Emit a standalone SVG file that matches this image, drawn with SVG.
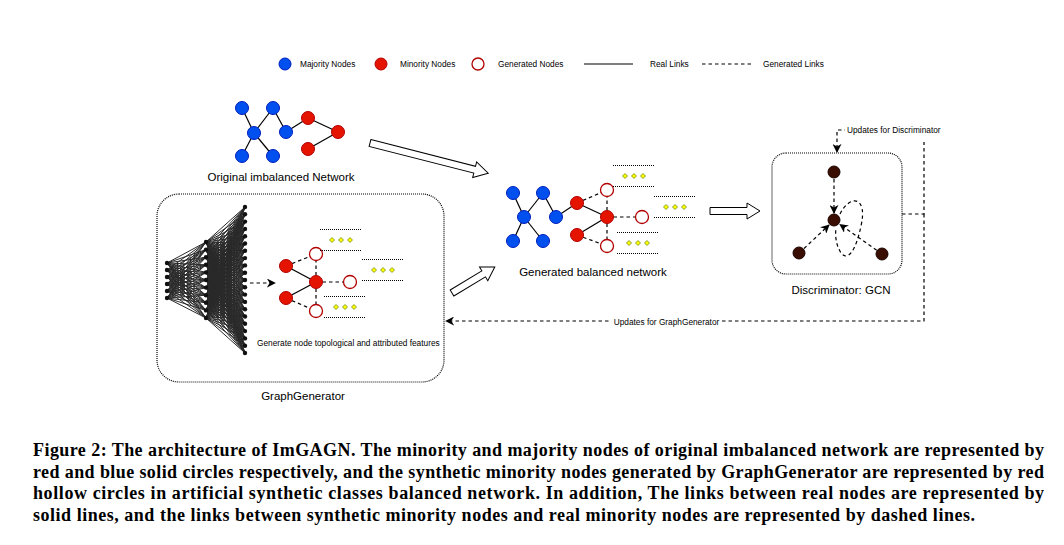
<svg xmlns="http://www.w3.org/2000/svg" width="1064" height="545" viewBox="0 0 1064 545">
<style>
text{font-family:"Liberation Sans",Arial,sans-serif;fill:#000}
.lbl{font-size:11.5px}
.sm{font-size:8.3px}
.cap{font-family:"Liberation Serif","Times New Roman",serif;font-size:18px;font-weight:bold}
.maj{fill:#0050ef;stroke:#001dbc;stroke-width:1}
.min{fill:#e51400;stroke:#b20000;stroke-width:1}
.gen{fill:#fff;stroke:#b20000;stroke-width:1.3}
.dn{fill:#3a0d02;stroke:#1a0500;stroke-width:1}
.real{stroke:#000;stroke-width:1.2;fill:none}
.dash{stroke:#000;stroke-width:1.2;fill:none;stroke-dasharray:3.5 3}
.dot{stroke:#000;stroke-width:1;fill:none;stroke-dasharray:1 1}
.nn{stroke:#2a2a2a;stroke-width:1;fill:none}
.nd{fill:#111}
.blk{fill:#fff;stroke:#000;stroke-width:1}
.dia{fill:#ffff00;stroke:#5a7d00;stroke-width:0.7}
.box{fill:none;stroke:#000;stroke-width:1.2;stroke-dasharray:1 1}
</style>
<defs>
<marker id="arr" viewBox="0 0 10 10" refX="9" refY="5" markerWidth="9" markerHeight="9" markerUnits="userSpaceOnUse" orient="auto">
<path d="M0,0 L10,5 L0,10 L3,5 Z" fill="#000"/>
</marker>
<path id="fanR" class="nn" vector-effect="non-scaling-stroke" d="M0 0L39 -73M0 0L39 -65.7M0 0L39 -58.4M0 0L39 -51.1M0 0L39 -43.8M0 0L39 -36.5M0 0L39 -29.2M0 0L39 -21.9M0 0L39 -14.6M0 0L39 -7.3M0 0L39 0M0 0L39 7.3M0 0L39 14.6M0 0L39 21.9M0 0L39 29.2M0 0L39 36.5M0 0L39 43.8M0 0L39 51.1M0 0L39 58.4M0 0L39 65.7M0 0L39 73"/>
<path id="fanM" class="nn" vector-effect="non-scaling-stroke" d="M0 0L39 -38M0 0L39 -30.4M0 0L39 -22.8M0 0L39 -15.2M0 0L39 -7.6M0 0L39 0M0 0L39 7.6M0 0L39 15.2M0 0L39 22.8M0 0L39 30.4M0 0L39 38"/>
<g id="feat">
<line class="dot" x1="0" y1="0.5" x2="41" y2="0.5"/>
<line class="dot" x1="0" y1="21.5" x2="41" y2="21.5"/>
<polygon class="dia" points="12,8.5 14.5,11 12,13.5 9.5,11"/>
<polygon class="dia" points="21,8.5 23.5,11 21,13.5 18.5,11"/>
<polygon class="dia" points="30,8.5 32.5,11 30,13.5 27.5,11"/>
</g>
</defs>
<rect width="1064" height="545" fill="#fff"/>

<!-- Legend -->
<g id="legend">
<circle class="maj" cx="285" cy="64" r="6"/>
<text class="sm" x="300" y="67">Majority Nodes</text>
<circle class="min" cx="381" cy="64" r="6"/>
<text class="sm" x="400" y="67">Minority Nodes</text>
<circle class="gen" cx="478" cy="64" r="6"/>
<text class="sm" x="498" y="67">Generated Nodes</text>
<line class="real" x1="584" y1="64" x2="633" y2="64"/>
<text class="sm" x="650" y="67">Real Links</text>
<line class="dash" x1="702" y1="64" x2="751" y2="64"/>
<text class="sm" x="763" y="67">Generated Links</text>
</g>

<!-- Connectors -->
<g id="connectors">
<!-- original network -->
<line class="real" x1="242" y1="108" x2="254" y2="133"/>
<line class="real" x1="273" y1="108" x2="254" y2="133"/>
<line class="real" x1="254" y1="133" x2="242" y2="156"/>
<line class="real" x1="254" y1="133" x2="273" y2="156"/>
<line class="real" x1="273" y1="108" x2="286" y2="132"/>
<line class="real" x1="286" y1="132" x2="308" y2="118"/>
<line class="real" x1="308" y1="118" x2="338" y2="132"/>
<line class="real" x1="338" y1="132" x2="308" y2="149"/>
<!-- generator graph -->
<line class="real" x1="286" y1="266" x2="316" y2="282"/>
<line class="real" x1="286" y1="298" x2="316" y2="282"/>
<line class="dash" x1="286" y1="266" x2="316" y2="254"/>
<line class="dash" x1="316" y1="282" x2="316" y2="254"/>
<line class="dash" x1="316" y1="282" x2="350" y2="282"/>
<line class="dash" x1="316" y1="282" x2="316" y2="311"/>
<line class="dash" x1="286" y1="298" x2="316" y2="311"/>
<line class="dash" x1="250" y1="283" x2="275" y2="283" marker-end="url(#arr)"/>
<!-- balanced network -->
<line class="real" x1="513" y1="193" x2="524" y2="217"/>
<line class="real" x1="543" y1="193" x2="524" y2="217"/>
<line class="real" x1="524" y1="217" x2="513" y2="241"/>
<line class="real" x1="524" y1="217" x2="543" y2="241"/>
<line class="real" x1="543" y1="193" x2="556" y2="217"/>
<line class="real" x1="556" y1="217" x2="577" y2="203"/>
<line class="real" x1="577" y1="203" x2="607" y2="217"/>
<line class="real" x1="607" y1="217" x2="577" y2="235"/>
<line class="dash" x1="577" y1="203" x2="607" y2="190"/>
<line class="dash" x1="607" y1="217" x2="607" y2="190"/>
<line class="dash" x1="607" y1="217" x2="642" y2="217"/>
<line class="dash" x1="607" y1="217" x2="607" y2="246"/>
<line class="dash" x1="577" y1="235" x2="607" y2="246"/>
<!-- discriminator -->
<line class="dash" x1="834" y1="179" x2="834" y2="213" marker-end="url(#arr)"/>
<line class="dash" x1="804" y1="248.5" x2="829" y2="225" marker-end="url(#arr)"/>
<line class="dash" x1="876.7" y1="250.2" x2="840" y2="224.5" marker-end="url(#arr)"/>
<path class="dash" d="M840 214 C850 194 868 196 861 226 C856 250 848 262 841 253 C836 245 835 236 836 228"/>
<!-- hollow block arrows -->
<polygon class="blk" transform="translate(370,143) rotate(14.3)" points="0,-3.5 108,-3.5 108,-8 122,0 108,8 108,3.5 0,3.5"/>
<polygon class="blk" transform="translate(452,293) rotate(-31.2)" points="0,-3.5 37,-3.5 37,-8 50,0 37,8 37,3.5 0,3.5"/>
<polygon class="blk" transform="translate(710,211)" points="0,-3.5 37,-3.5 37,-8 50,0 37,8 37,3.5 0,3.5"/>
<!-- update loops -->
<path class="dash" d="M902 214 H924 V130 H837 V152" marker-end="url(#arr)"/>
<path class="dash" d="M924 214 V321 H446" marker-end="url(#arr)"/>
<rect x="845" y="122" width="99" height="20" fill="#fff"/>
<text class="sm" x="847" y="133">Updates for Discriminator</text>
<rect x="611" y="316" width="111" height="12" fill="#fff"/>
<text class="sm" x="666.5" y="325" text-anchor="middle">Updates for GraphGenerator</text>
</g>

<!-- Original imbalanced network -->
<g id="original-network">
<g id="o-b1"><circle class="maj" cx="242" cy="108" r="6.5"/></g>
<g id="o-b2"><circle class="maj" cx="273" cy="108" r="6.5"/></g>
<g id="o-b3"><circle class="maj" cx="254" cy="133" r="6.5"/></g>
<g id="o-b4"><circle class="maj" cx="286" cy="132" r="6.5"/></g>
<g id="o-b5"><circle class="maj" cx="242" cy="156" r="6.5"/></g>
<g id="o-b6"><circle class="maj" cx="273" cy="156" r="6.5"/></g>
<g id="o-r1"><circle class="min" cx="308" cy="118" r="6.5"/></g>
<g id="o-r2"><circle class="min" cx="338" cy="132" r="6.5"/></g>
<g id="o-r3"><circle class="min" cx="308" cy="149" r="6.5"/></g>
<text class="lbl" x="281" y="181" text-anchor="middle">Original imbalanced Network</text>
</g>

<!-- GraphGenerator -->
<g id="graph-generator">
<rect class="box" x="157" y="194" width="287" height="188" rx="22"/>
<g id="nn-edges">
<use href="#fanM" transform="matrix(1,0.4359,0,1,167,263)"/>
<use href="#fanM" transform="matrix(1,0.2564,0,1,167,270)"/>
<use href="#fanM" transform="matrix(1,0.0769,0,1,167,277)"/>
<use href="#fanM" transform="matrix(1,-0.1026,0,1,167,284)"/>
<use href="#fanM" transform="matrix(1,-0.2821,0,1,167,291)"/>
<use href="#fanM" transform="matrix(1,-0.4615,0,1,167,298)"/>
<use href="#fanR" transform="matrix(1,0.9744,0,1,206,242)"/>
<use href="#fanR" transform="matrix(1,0.7795,0,1,206,249.6)"/>
<use href="#fanR" transform="matrix(1,0.5846,0,1,206,257.2)"/>
<use href="#fanR" transform="matrix(1,0.3897,0,1,206,264.8)"/>
<use href="#fanR" transform="matrix(1,0.1949,0,1,206,272.4)"/>
<use href="#fanR" transform="matrix(1,0,0,1,206,280)"/>
<use href="#fanR" transform="matrix(1,-0.1949,0,1,206,287.6)"/>
<use href="#fanR" transform="matrix(1,-0.3897,0,1,206,295.2)"/>
<use href="#fanR" transform="matrix(1,-0.5846,0,1,206,302.8)"/>
<use href="#fanR" transform="matrix(1,-0.7795,0,1,206,310.4)"/>
<use href="#fanR" transform="matrix(1,-0.9744,0,1,206,318)"/>
</g>
<g id="nn-nodes" class="nd">
<circle cx="167" cy="263" r="2.2"/><circle cx="167" cy="270" r="2.2"/><circle cx="167" cy="277" r="2.2"/><circle cx="167" cy="284" r="2.2"/><circle cx="167" cy="291" r="2.2"/><circle cx="167" cy="298" r="2.2"/>
<circle cx="206" cy="242" r="2.2"/><circle cx="206" cy="249.6" r="2.2"/><circle cx="206" cy="257.2" r="2.2"/><circle cx="206" cy="264.8" r="2.2"/><circle cx="206" cy="272.4" r="2.2"/><circle cx="206" cy="280" r="2.2"/><circle cx="206" cy="287.6" r="2.2"/><circle cx="206" cy="295.2" r="2.2"/><circle cx="206" cy="302.8" r="2.2"/><circle cx="206" cy="310.4" r="2.2"/><circle cx="206" cy="318" r="2.2"/>
<circle cx="245" cy="207" r="2.2"/><circle cx="245" cy="214.3" r="2.2"/><circle cx="245" cy="221.6" r="2.2"/><circle cx="245" cy="228.9" r="2.2"/><circle cx="245" cy="236.2" r="2.2"/><circle cx="245" cy="243.5" r="2.2"/><circle cx="245" cy="250.8" r="2.2"/><circle cx="245" cy="258.1" r="2.2"/><circle cx="245" cy="265.4" r="2.2"/><circle cx="245" cy="272.7" r="2.2"/><circle cx="245" cy="280" r="2.2"/><circle cx="245" cy="287.3" r="2.2"/><circle cx="245" cy="294.6" r="2.2"/><circle cx="245" cy="301.9" r="2.2"/><circle cx="245" cy="309.2" r="2.2"/><circle cx="245" cy="316.5" r="2.2"/><circle cx="245" cy="323.8" r="2.2"/><circle cx="245" cy="331.1" r="2.2"/><circle cx="245" cy="338.4" r="2.2"/><circle cx="245" cy="345.7" r="2.2"/><circle cx="245" cy="353" r="2.2"/>
</g>
<g id="g-r1"><circle class="min" cx="286" cy="266" r="6.5"/></g>
<g id="g-r2"><circle class="min" cx="286" cy="298" r="6.5"/></g>
<g id="g-r3"><circle class="min" cx="316" cy="282" r="6.5"/></g>
<g id="g-h1"><circle class="gen" cx="316" cy="254" r="6.5"/></g>
<g id="g-h2"><circle class="gen" cx="350" cy="282" r="6.5"/></g>
<g id="g-h3"><circle class="gen" cx="316" cy="311" r="6.5"/></g>
<use href="#feat" x="320" y="229"/>
<use href="#feat" x="362" y="259"/>
<use href="#feat" x="324" y="296"/>
<text class="sm" x="257" y="346">Generate node topological and attributed features</text>
<text class="lbl" x="303" y="400" text-anchor="middle">GraphGenerator</text>
</g>

<!-- Generated balanced network -->
<g id="balanced-network">
<g id="b-b1"><circle class="maj" cx="513" cy="193" r="6.5"/></g>
<g id="b-b2"><circle class="maj" cx="543" cy="193" r="6.5"/></g>
<g id="b-b3"><circle class="maj" cx="524" cy="217" r="6.5"/></g>
<g id="b-b4"><circle class="maj" cx="556" cy="217" r="6.5"/></g>
<g id="b-b5"><circle class="maj" cx="513" cy="241" r="6.5"/></g>
<g id="b-b6"><circle class="maj" cx="543" cy="241" r="6.5"/></g>
<g id="b-r1"><circle class="min" cx="577" cy="203" r="6.5"/></g>
<g id="b-r2"><circle class="min" cx="607" cy="217" r="6.5"/></g>
<g id="b-r3"><circle class="min" cx="577" cy="235" r="6.5"/></g>
<g id="b-h1"><circle class="gen" cx="607" cy="190" r="6.5"/></g>
<g id="b-h2"><circle class="gen" cx="642" cy="217" r="6.5"/></g>
<g id="b-h3"><circle class="gen" cx="607" cy="246" r="6.5"/></g>
<use href="#feat" x="613" y="165"/>
<use href="#feat" x="654" y="196"/>
<use href="#feat" x="617" y="232"/>
<text class="lbl" x="593" y="276" text-anchor="middle">Generated balanced network</text>
</g>

<!-- Discriminator -->
<g id="discriminator">
<rect class="box" x="772" y="153" width="130" height="121" rx="14"/>
<g id="d-n1"><circle class="dn" cx="834" cy="172" r="6"/></g>
<g id="d-n2"><circle class="dn" cx="834" cy="220" r="6"/></g>
<g id="d-n3"><circle class="dn" cx="799" cy="253" r="6"/></g>
<g id="d-n4"><circle class="dn" cx="882" cy="254" r="6"/></g>
<text class="lbl" x="841" y="294" text-anchor="middle">Discriminator: GCN</text>
</g>

<!-- Caption -->
<g id="caption">
<text class="cap" x="33" y="456" textLength="1011" lengthAdjust="spacing">Figure 2: The architecture of ImGAGN. The minority and majority nodes of original imbalanced network are represented by</text>
<text class="cap" x="33" y="477.5" textLength="1011" lengthAdjust="spacing">red and blue solid circles respectively, and the synthetic minority nodes generated by GraphGenerator are represented by red</text>
<text class="cap" x="33" y="499" textLength="1011" lengthAdjust="spacing">hollow circles in artificial synthetic classes balanced network. In addition, The links between real nodes are represented by</text>
<text class="cap" x="33" y="520.5" textLength="942" lengthAdjust="spacing">solid lines, and the links between synthetic minority nodes and real minority nodes are represented by dashed lines.</text>
</g>
</svg>
